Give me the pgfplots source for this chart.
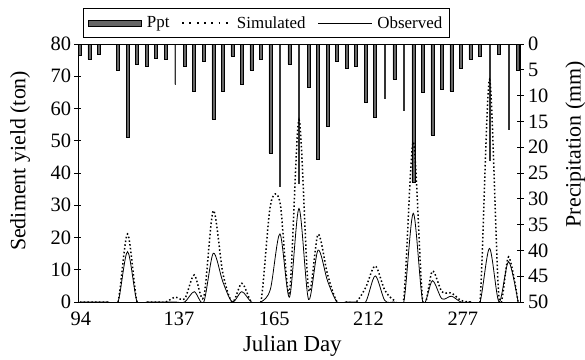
\documentclass[border=0pt]{standalone}
\usepackage{fontspec}
\setmainfont{Liberation Serif}
\usepackage{pgfplots}
\pgfplotsset{compat=1.18}
\usepackage{pgfplotstable}

\pgfplotstableread{
i mm
0 2.1
1 3.0
2 2.0
4 5.0
5 18.0
6 3.9
7 4.3
8 2.7
9 3.0
11 4.3
12 9.1
13 3.4
14 14.5
15 9.1
16 2.3
17 7.8
18 5.0
19 3.0
20 21.1
22 3.9
24 8.4
25 22.3
26 15.9
27 3.4
28 4.7
29 4.4
30 11.2
31 14.2
33 6.8
35 26.8
36 9.4
37 17.6
38 8.8
39 9.1
40 4.7
41 3.0
42 2.3
44 2.0
46 5.0
}\pptthick

\pgfplotstableread{
i mm
10 7.8
21 27.5
23 27.0
32 10.5
34 12.9
43 22.6
45 16.5
}\pptthin

\pgfplotstableread{
i obs sim
0 0 0
1 0 0
2 0 0
3 0 0
4 0 0
5 15.6 21.1
6 0 0
7 0 0
8 0 0
9 0 0
10 0 1.5
11 0 1
12 3.2 8.4
13 0 1.5
14 15.1 28.3
15 6.3 9
16 0 0
17 3.2 5.8
18 0 0
19 0 0
20 4 30
21 21.1 31
22 1.5 3
23 29 56.5
24 0.8 4
25 16.1 21
26 6.5 8.5
27 0 0
28 0 0
29 0 0
30 0 4.5
31 8.1 11.2
32 0.5 3.7
33 0 0.5
34 0 1
35 27.5 49.6
36 0 0
37 6.6 9.6
38 1.0 3.2
39 1.8 2.8
40 0 0.5
41 0 0
42 0 0
43 16.6 69
44 0 1
45 12.5 14
46 0 0
}\sed

\begin{document}
\begin{tikzpicture}
\path[use as bounding box] (-78bp,-58bp) rectangle (507bp,302bp);
\pgfplotsset{
  common/.style={
    scale only axis, width=442bp, height=258bp,
    xmin=-0.2, xmax=46.2,
    tick align=center, major tick length=7bp,
    axis line style={line width=1pt},
    every tick/.style={line width=1pt, black},
    /pgf/number format/assume math mode=true,
    tick label style={font=\fontsize{20.5}{22}\selectfont},
    label style={font=\fontsize{22}{24}\selectfont},
  }
}
\begin{axis}[common,
  ymin=0, ymax=50, y dir=reverse,
  axis x line=none, axis y line*=right,
  ytick={0,5,...,50},
  ylabel={Precipitation (mm)},
  ylabel style={at={(axis description cs:1.125,0.612)}, anchor=center},
  yticklabel style={xshift=1bp},
]
\addplot[ybar, bar width=3bp, fill=black!60, draw=black, line width=0.5pt] table[x=i, y=mm] {\pptthick};
\addplot[ybar, bar width=0.9bp, fill=black!80, draw=black!80, line width=0.3pt] table[x=i, y=mm] {\pptthin};
\end{axis}
\begin{axis}[common,
  ymin=0, ymax=80, ytick={0,10,...,80},
  ytick pos=left,
  xtick={0.1,10.4,20.4,30.3,40.2},
  xticklabels={94,137,165,212,277},
  xtick style={draw=none},
  xticklabel style={yshift=-3bp},
  xlabel={Julian Day},
  xlabel style={at={(axis description cs:0.485,-0.171)}, anchor=center, font=\fontsize{23}{25}\selectfont},
  ylabel={Sediment yield (ton)},
  ylabel style={at={(axis description cs:-0.131,0.547)}, anchor=center},
  legend columns=3,
  legend style={at={(axis description cs:0.0113,1.023)}, anchor=south west,
    draw=black, line width=0.7pt, font=\fontsize{17}{18}\selectfont,
    inner xsep=5bp, inner ysep=6bp,
    /tikz/every even column/.append style={column sep=10bp}},
  legend cell align=left,
]
\addlegendimage{legend image code/.code={\draw[fill=black!60, draw=black, line width=0.6pt] (0bp,-3bp) rectangle (53bp,3bp); \path (56bp,0bp);}}
\addlegendentry{Ppt}
\addplot[smooth, tension=0.5, black, line width=1.5pt, dash pattern=on 1.5pt off 2.3pt,
  legend image code/.code={\draw[black, line width=1.3pt, dash pattern=on 1.8pt off 5.5pt] (0bp,0bp) -- (50bp,0bp); \path (52bp,0bp);}] table[x=i, y=sim] {\sed};
\addlegendentry{Simulated}
\addplot[smooth, tension=0.5, black, line width=0.8pt,
  legend image code/.code={\draw[black, line width=0.8pt] (0bp,0bp) -- (54bp,0bp); \path (57bp,0bp);}] table[x=i, y=obs] {\sed};
\addlegendentry{Observed}
\end{axis}
\end{tikzpicture}
\end{document}
